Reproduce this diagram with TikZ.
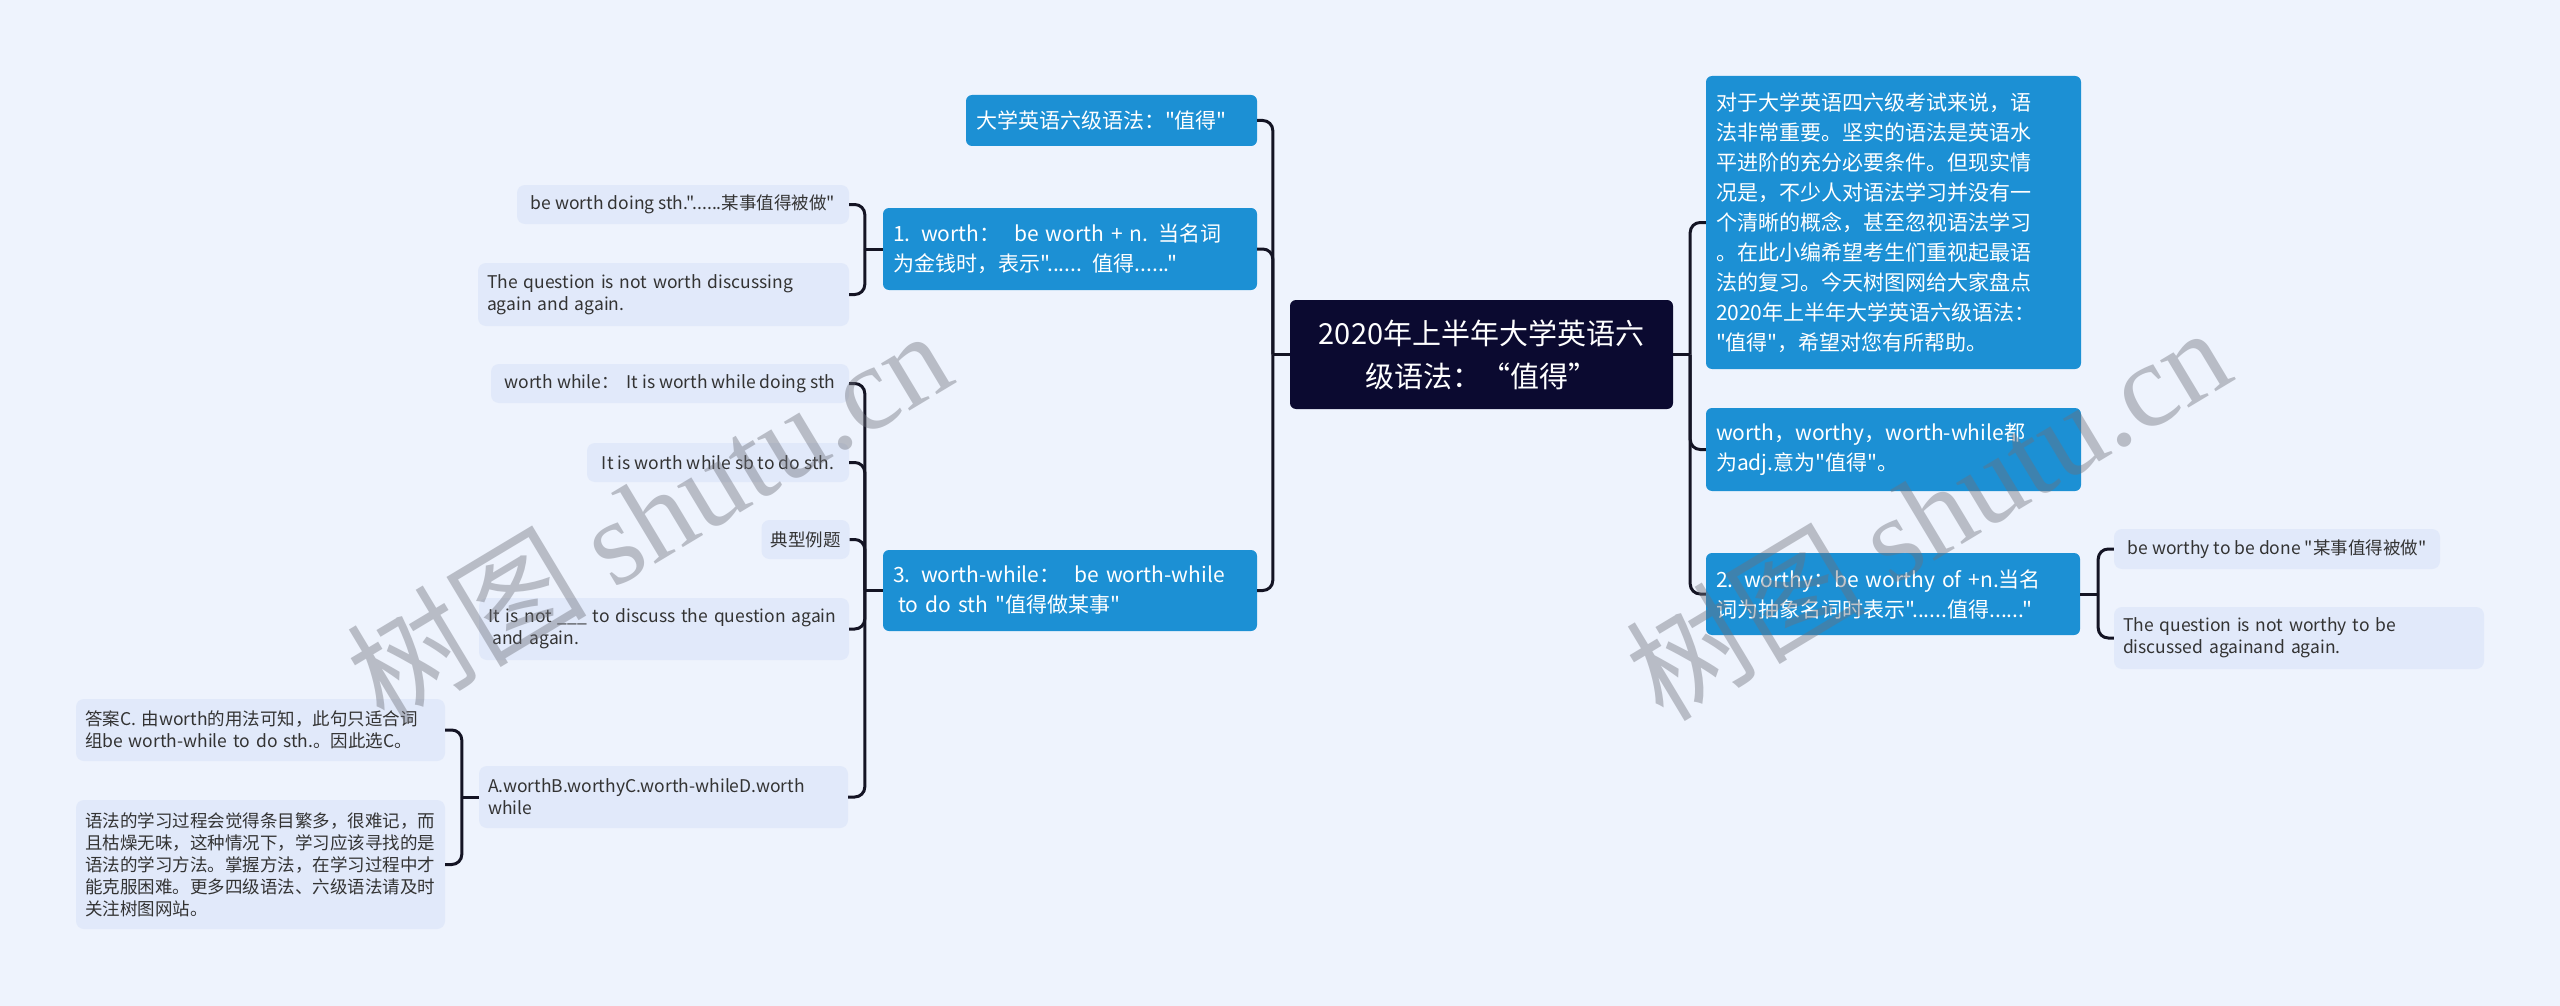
\documentclass[tikz,border=0pt]{standalone}
\usepackage{fontspec}
\newfontfamily\cjk{Noto Sans CJK SC}
\newfontfamily\wmlatin{Liberation Serif}
\definecolor{bgcol}{RGB}{238,243,253}
\definecolor{nodeblue}{RGB}{28,144,212}
\definecolor{rootcol}{RGB}{11,10,48}
\definecolor{leafbg}{RGB}{225,233,250}
\definecolor{leaftext}{RGB}{51,51,51}
\definecolor{linecol}{RGB}{20,20,36}
\definecolor{wmcol}{RGB}{110,112,122}
\tikzset{
  rootbox/.style={fill=rootcol, text=white, rounded corners=6pt, inner xsep=10pt, inner ysep=0pt, align=center, font=\cjk\fontsize{29}{43}\selectfont},
  bluebox/.style={fill=nodeblue, text=white, rounded corners=6pt, inner xsep=10pt, inner ysep=0pt, align=left, font=\cjk\fontsize{21}{30}\selectfont},
  leaf/.style={fill=leafbg, text=leaftext, rounded corners=8pt, inner xsep=9pt, inner ysep=0pt, align=left, font=\cjk\fontsize{17.5}{22}\selectfont},
  conn/.style={draw=linecol, line width=3pt, rounded corners=10pt},
  wm/.style={text=wmcol, text opacity=0.42, inner sep=0pt}
}
\begin{document}
\begin{tikzpicture}[x=1pt,y=-1pt]
\fill[bgcol] (0,0) rectangle (2560,1006);
\useasboundingbox (0,0) rectangle (2560,1006);

% root
\node[rootbox, minimum width=383, minimum height=109, text width=363] (root) at (1481.5,354.5) {2020年上半年大学英语六\\级语法：“值得”};

% left main branches
\node[bluebox, minimum width=291, minimum height=51, text width=271] (b1) at (1111.5,120.5) {大学英语六级语法："值得"};
\node[bluebox, minimum width=374, minimum height=82, text width=354] (b2) at (1070,249) {1. worth：\ \ be worth + n. 当名词\\为金钱时，表示"...... 值得......"};
\node[bluebox, minimum width=374, minimum height=81, text width=354] (b3) at (1070,590.5) {3. worth-while：\ \ be worth-while\\\hspace*{.25em}to do sth "值得做某事"};

% right main branches
\node[bluebox, minimum width=375, minimum height=293, text width=355] (r1) at (1893.5,222.5) {对于大学英语四六级考试来说，语\\法非常重要。坚实的语法是英语水\\平进阶的充分必要条件。但现实情\\况是，不少人对语法学习并没有一\\个清晰的概念，甚至忽视语法学习\\。在此小编希望考生们重视起最语\\法的复习。今天树图网给大家盘点\\2020年上半年大学英语六级语法：\\"值得"，希望对您有所帮助。};
\node[bluebox, minimum width=375, minimum height=83, text width=355] (r2) at (1893.5,449.5) {worth，worthy，worth-while都\\为adj.意为"值得"。};
\node[bluebox, minimum width=374, minimum height=82, text width=354] (r3) at (1893,594) {2. worthy：be worthy of +n.当名\\词为抽象名词时表示"......值得......"};

% leaves of b2
\node[leaf, minimum width=332, minimum height=39] (l1a) at (683,204.5) {be worth doing sth."......某事值得被做"};
\node[leaf, minimum width=371, minimum height=63, text width=353] (l1b) at (663.5,294.5) {The question is not worth discussing\\again and again.};

% leaves of b3
\node[leaf, minimum width=358, minimum height=39] (l3a) at (670,383.5) {worth while：\ \ It is worth while doing sth};
\node[leaf, minimum width=262, minimum height=39] (l3b) at (718,462.5) {It is worth while sb to do sth.};
\node[leaf, minimum width=87, minimum height=39] (l3c) at (805.5,539.5) {典型例题};
\node[leaf, minimum width=370, minimum height=62, text width=352] (l3d) at (664,629) {\mbox{It is not \_\_\_ to discuss the question again}\\\hspace*{.25em}and again.};
\node[leaf, minimum width=369, minimum height=62, text width=351] (l3e) at (663.5,797) {A.worthB.worthyC.worth-whileD.worth\\while};

% leaves of l3e
\node[leaf, minimum width=369, minimum height=62, text width=351] (l3e1) at (260.5,730) {答案C. 由worth的用法可知，此句只适合词\\组be worth-while to do sth.。因此选C。};
\node[leaf, minimum width=369, minimum height=129, text width=351] (l3e2) at (260.5,864.5) {语法的学习过程会觉得条目繁多，很难记，而\\且枯燥无味，这种情况下，学习应该寻找的是\\语法的学习方法。掌握方法，在学习过程中才\\能克服困难。更多四级语法、六级语法请及时\\关注树图网站。};

% leaves of r3
\node[leaf, minimum width=326, minimum height=40] (r3a) at (2277,549) {be worthy to be done "某事值得被做"};
\node[leaf, minimum width=370, minimum height=62, text width=352] (r3b) at (2299,638) {The question is not worthy to be\\discussed againand again.};

% trunk points
\coordinate (tl) at ([xshift=-17pt]root.west);
\coordinate (tr) at ([xshift=17pt]root.east);
\coordinate (t2) at ([xshift=-18pt]b2.west);
\coordinate (t3) at ([xshift=-18pt]b3.west);
\coordinate (t3e) at ([xshift=-17pt]l3e.west);
\coordinate (tr3) at ([xshift=18pt]r3.east);

% connectors
\draw[conn] (root.west) -- (tl);
\foreach \c in {b1,b2,b3} \draw[conn] (\c.east) -| (tl);
\draw[conn] (root.east) -- (tr);
\foreach \c in {r1,r2,r3} \draw[conn] (\c.west) -| (tr);
\draw[conn] (b2.west) -- (t2);
\foreach \c in {l1a,l1b} \draw[conn] (\c.east) -| (t2);
\draw[conn] (b3.west) -- (t3);
\foreach \c in {l3a,l3b,l3c,l3d,l3e} \draw[conn] (\c.east) -| (t3);
\draw[conn] (l3e.west) -- (t3e);
\foreach \c in {l3e1,l3e2} \draw[conn] (\c.east) -| (t3e);
\draw[conn] (r3.east) -- (tr3);
\foreach \c in {r3a,r3b} \draw[conn] (\c.west) -| (tr3);

% watermarks
\node[wm, rotate=31, font=\cjk\fontsize{120}{120}\selectfont] (wm1) at (648,515) {树图 {\wmlatin shutu.cn}};
\node[wm, rotate=31, font=\cjk\fontsize{120}{120}\selectfont] (wm2) at (1927,512) {树图 {\wmlatin shutu.cn}};
\end{tikzpicture}
\end{document}
